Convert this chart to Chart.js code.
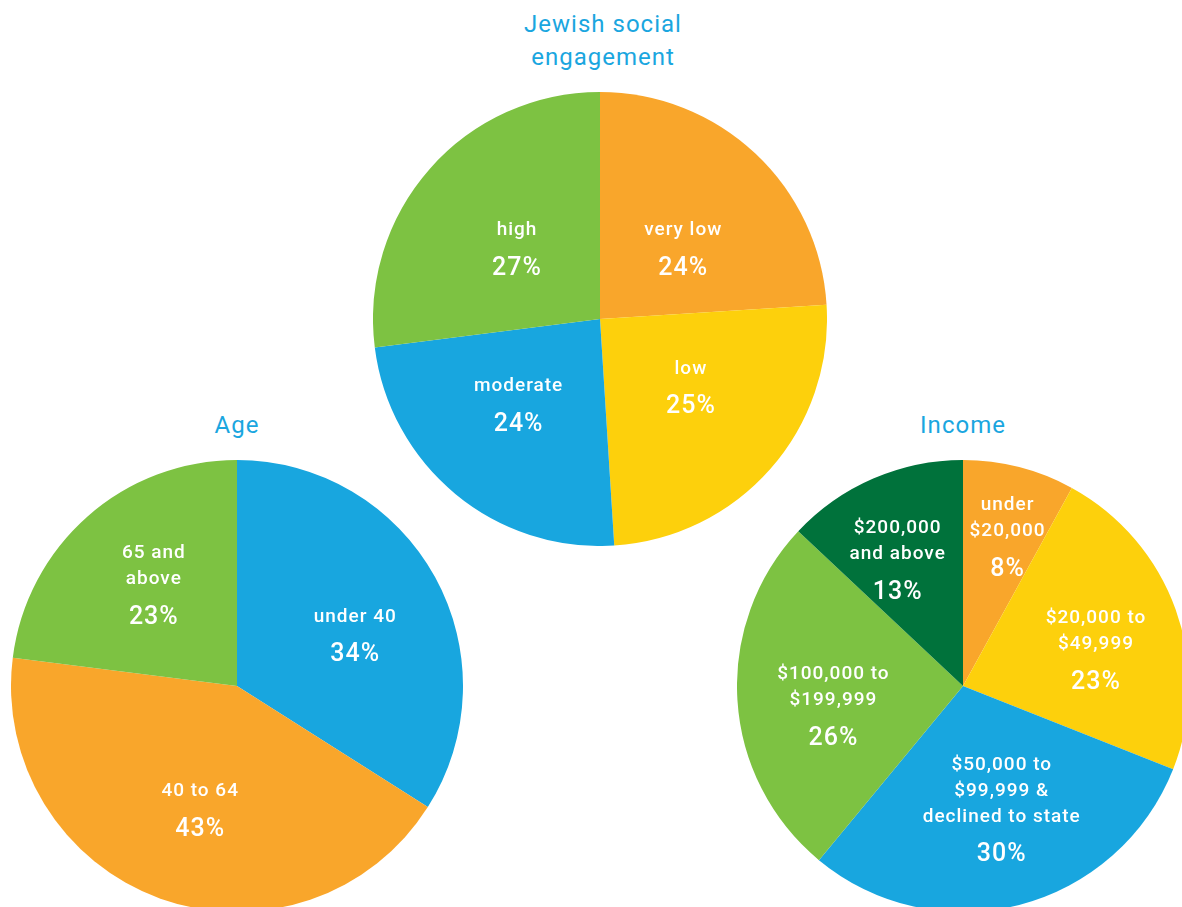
<!DOCTYPE html>
<html>
<head>
<meta charset="utf-8">
<script src="https://cdn.jsdelivr.net/npm/chart.js@4.4.0/dist/chart.umd.min.js"></script>
<style>
  html, body { margin: 0; padding: 0; background: #fff; }
  #page { position: relative; width: 1182px; height: 907px; overflow: hidden; font-family: Roboto, "DejaVu Sans", sans-serif; }
  canvas { position: absolute; }
  .title { position: absolute; color: #1aa6df; font-size: 24px; text-align: center; line-height: 33px; letter-spacing: 1px; }
</style>
</head>
<body>
<div id="page">
  <div class="title" style="left:453px; top:8px; width:300px;">Jewish social<br>engagement</div>
  <div class="title" style="left:137px; top:409px; width:200px;">Age</div>
  <div class="title" style="left:863px; top:409px; width:200px;">Income</div>
  <canvas id="engagementChart" width="454" height="454" style="left:373px; top:92px;"></canvas>
  <canvas id="ageChart" width="452" height="452" style="left:11px; top:460px;"></canvas>
  <canvas id="incomeChart" width="452" height="452" style="left:737px; top:460px;"></canvas>
</div>
<script>
  // Jewish social engagement
  const engagementLabels = [["very low"], ["low"], ["moderate"], ["high"]];
  const engagementValues = [24, 25, 24, 27];

  // Age
  const ageLabels = [["under 40"], ["40 to 64"], ["65 and", "above"]];
  const ageValues = [34, 43, 23];

  // Income
  const incomeLabels = [
    ["under", "$20,000"],
    ["$20,000 to", "$49,999"],
    ["$50,000 to", "$99,999 &", "declined to state"],
    ["$100,000 to", "$199,999"],
    ["$200,000", "and above"]
  ];
  const incomeValues = [8, 23, 30, 26, 13];

  const ORANGE = "#f9a62b", YELLOW = "#fdd00c", BLUE = "#18a6df", GREEN = "#7dc242", DARK = "#00723b";

  // draws the category + percent text inside each slice
  // radius = fraction of the outer radius, shift = nudge of the angle in degrees
  const sliceLabels = {
    id: "sliceLabels",
    afterDatasetsDraw(chart, args, opts) {
      const ctx = chart.ctx;
      const meta = chart.getDatasetMeta(0);
      const values = chart.data.datasets[0].data;
      ctx.save();
      ctx.fillStyle = "#fff";
      ctx.textAlign = "center";
      ctx.textBaseline = "middle";
      ctx.letterSpacing = "1px";
      meta.data.forEach((arc, i) => {
        const p = arc.getProps(["x", "y", "startAngle", "endAngle", "outerRadius"], true);
        const mid = (p.startAngle + p.endAngle) / 2 + opts.shift[i] * Math.PI / 180;
        const r = p.outerRadius * opts.radius[i];
        const cx = p.x + Math.cos(mid) * r;
        const cy = p.y + Math.sin(mid) * r;
        const lines = opts.names[i];
        const span = (lines.length - 1) * 26 + 38;
        const y = cy - span / 2 + 1;
        ctx.font = "500 19px Roboto, sans-serif";
        lines.forEach((t, k) => ctx.fillText(t, cx, y + k * 26));
        ctx.font = "500 25px Roboto, sans-serif";
        ctx.fillText(values[i] + "%", cx, y + (lines.length - 1) * 26 + 38);
      });
      ctx.restore();
    }
  };

  function makePie(id, names, values, colors, radius, shift) {
    new Chart(document.getElementById(id), {
      type: "pie",
      data: {
        labels: names.map(n => n.join(" ")),
        datasets: [{
          data: values,
          backgroundColor: colors,
          borderWidth: 0,
          hoverOffset: 0,
          offset: 0
        }]
      },
      options: {
        responsive: false,
        animation: false,
        events: [],
        layout: { padding: 0 },
        plugins: {
          legend: { display: false },
          tooltip: { enabled: false },
          sliceLabels: { names: names, radius: radius, shift: shift }
        }
      },
      plugins: [sliceLabels]
    });
  }

  makePie("engagementChart", engagementLabels, engagementValues,
    [ORANGE, YELLOW, BLUE, GREEN], [0.48, 0.5, 0.52, 0.48], [6.6, -4.6, 4, -1]);
  makePie("ageChart", ageLabels, ageValues,
    [BLUE, ORANGE, GREEN], [0.57, 0.57, 0.58], [5.4, -3.2, 2]);
  makePie("incomeChart", incomeLabels, incomeValues,
    [ORANGE, YELLOW, BLUE, GREEN, DARK], [0.69, 0.61, 0.57, 0.58, 0.63], [2.2, 4.5, -3.1, -5, -3.9]);
</script>
</body>
</html>
